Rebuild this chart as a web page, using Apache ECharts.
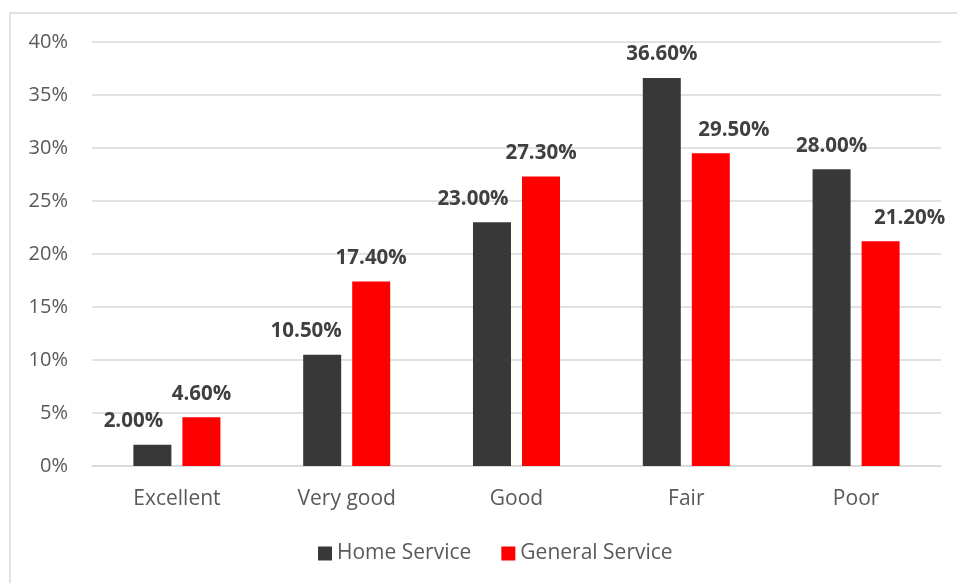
<!DOCTYPE html>
<html>
<head>
<meta charset="utf-8">
<script src="https://cdn.jsdelivr.net/npm/echarts@6/dist/echarts.min.js"></script>
<style>
html,body{margin:0;padding:0;background:#fff;}
#chart{width:957px;height:583px;}
</style>
</head>
<body>
<div id="chart"></div>
<script>
const categories = ['Excellent', 'Very good', 'Good', 'Fair', 'Poor'];
const homeService = [2.0, 10.5, 23.0, 36.6, 28.0];
const generalService = [4.6, 17.4, 27.3, 29.5, 21.2];
const yTicks = [0, 5, 10, 15, 20, 25, 30, 35, 40];

// label horizontal nudges (style only, as in the reference)
const homeLabelDx = [-19, -16, -19, 0, 0];
const generalLabelDx = [0, 0, 0, 23, 29];

const FONT = '"Open Sans", "Noto Sans", sans-serif';

function items(values, dx) {
  return values.map((v, i) => ({ value: v, label: { offset: [dx[i], 0] } }));
}

const labelStyle = {
  show: true,
  position: 'top',
  distance: 13,
  formatter: p => p.value.toFixed(2) + '%',
  fontFamily: FONT,
  fontWeight: 'bold',
  fontSize: 20.5,
  color: '#404040'
};

const chart = echarts.init(document.getElementById('chart'), null, { renderer: 'canvas' });
chart.setOption({
  animation: false,
  backgroundColor: '#ffffff',
  graphic: [{
    type: 'rect',
    shape: { x: 10, y: 13, width: 1000, height: 700 },
    style: { fill: 'none', stroke: '#d9d9d9', lineWidth: 1.5 },
    silent: true,
    z: -10
  }],
  grid: { left: 92, right: 16, top: 42, bottom: 117, containLabel: false },
  legend: {
    left: 318,
    top: 543,
    padding: 0,
    itemWidth: 14,
    itemHeight: 14,
    itemGap: 30,
    icon: 'rect',
    textStyle: { fontFamily: FONT, fontSize: 21, color: '#595959' },
    data: ['Home Service', 'General Service']
  },
  xAxis: {
    type: 'category',
    data: categories,
    axisLine: { show: true, lineStyle: { color: '#d9d9d9', width: 1.5 } },
    axisTick: { show: false },
    axisLabel: { margin: 23, fontFamily: FONT, fontSize: 21, color: '#595959' }
  },
  yAxis: {
    type: 'value',
    min: yTicks[0],
    max: yTicks[yTicks.length - 1],
    interval: 5,
    axisLine: { show: false },
    axisTick: { show: false },
    splitLine: { lineStyle: { color: '#d9d9d9', width: 1.5 } },
    axisLabel: { margin: 24, fontFamily: FONT, fontSize: 20, color: '#595959', formatter: v => v + '%' }
  },
  series: [
    {
      name: 'Home Service',
      type: 'bar',
      barWidth: 38,
      barGap: '29%',
      itemStyle: { color: '#383838' },
      label: labelStyle,
      data: items(homeService, homeLabelDx)
    },
    {
      name: 'General Service',
      type: 'bar',
      barWidth: 38,
      barGap: '29%',
      itemStyle: { color: '#ff0000' },
      label: labelStyle,
      data: items(generalService, generalLabelDx)
    }
  ]
});
</script>
</body>
</html>
